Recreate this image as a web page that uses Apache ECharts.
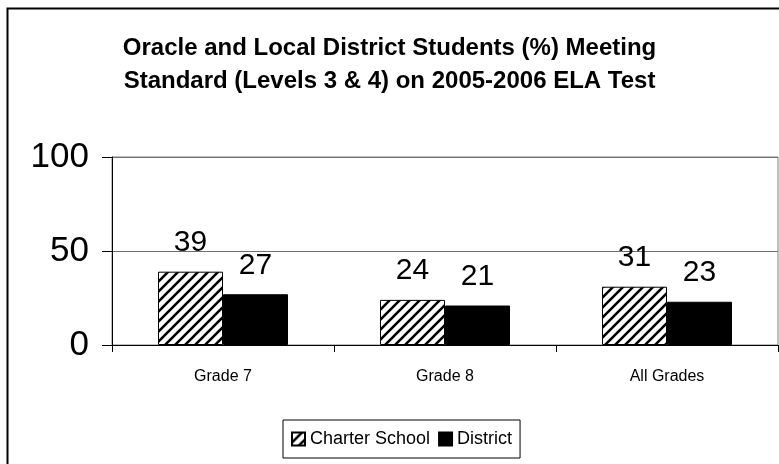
<!DOCTYPE html>
<html>
<head>
<meta charset="utf-8">
<script src="https://cdn.jsdelivr.net/npm/echarts@6/dist/echarts.min.js"></script>
<style>
html,body{margin:0;padding:0;background:#fff;}
#chart{width:779px;height:464px;}
</style>
</head>
<body>
<div id="chart"></div>
<script>
const categories = ['Grade 7', 'Grade 8', 'All Grades'];
const charterSchool = [39, 24, 31];
const district = [27, 21, 23];
const yTicks = [0, 50, 100];

function hatch() {
  const c = document.createElement('canvas');
  const s = 10;
  c.width = s; c.height = s;
  const ctx = c.getContext('2d');
  ctx.fillStyle = '#fff';
  ctx.fillRect(0, 0, s, s);
  ctx.strokeStyle = '#000';
  ctx.lineWidth = 2.6;
  ctx.beginPath();
  ctx.moveTo(-s, s); ctx.lineTo(s, -s);
  ctx.moveTo(0, s); ctx.lineTo(s, 0);
  ctx.moveTo(0, 2 * s); ctx.lineTo(2 * s, 0);
  ctx.stroke();
  return c;
}

const chart = echarts.init(document.getElementById('chart'), null, {renderer: 'canvas'});
const font = 'Liberation Sans, Arial, sans-serif';
chart.setOption({
  animation: false,
  textStyle: {fontFamily: font},
  title: {
    text: 'Oracle and Local District Students (%) Meeting\nStandard (Levels 3 & 4) on 2005-2006 ELA Test',
    left: 'center',
    top: 27,
    textStyle: {fontFamily: font, fontSize: 24, fontWeight: 'bold', color: '#000', lineHeight: 33}
  },
  graphic: [{
    type: 'rect',
    shape: {x: 7.5, y: 8.5, width: 790, height: 480},
    style: {fill: 'none', stroke: '#000', lineWidth: 2},
    silent: true,
    z: 100
  }],
  legend: {
    bottom: 6,
    left: 283,
    data: ['Charter School', 'District'],
    itemWidth: 13,
    itemHeight: 13,
    itemGap: 8,
    padding: [10, 8, 10, 8],
    borderColor: '#000',
    borderWidth: 1,
    textStyle: {fontFamily: font, fontSize: 18, color: '#000'},
    icon: 'rect'
  },
  grid: {left: 112, right: 1, top: 157, bottom: 119, show: true, borderColor: '#808080', borderWidth: 1},
  xAxis: {
    type: 'category',
    data: categories,
    axisLine: {lineStyle: {color: '#000', width: 1}},
    axisTick: {show: true, length: 7, lineStyle: {color: '#000'}},
    axisLabel: {fontFamily: font, fontSize: 16, color: '#000', margin: 24}
  },
  yAxis: {
    type: 'value',
    min: yTicks[0],
    max: yTicks[yTicks.length - 1],
    interval: 50,
    axisLine: {show: true, lineStyle: {color: '#000', width: 1}},
    axisTick: {show: true, length: 10, lineStyle: {color: '#000'}},
    axisLabel: {fontFamily: font, fontSize: 35, color: '#000', margin: 23},
    splitLine: {lineStyle: {color: '#707070', width: 1}}
  },
  series: [{
    name: 'Charter School',
    type: 'bar',
    data: charterSchool,
    barWidth: 65,
    barGap: '0%',
    itemStyle: {color: {image: hatch(), repeat: 'repeat'}, borderColor: '#000', borderWidth: 1},
    label: {show: true, position: 'top', distance: 14, fontFamily: font, fontSize: 30, color: '#000'}
  }, {
    name: 'District',
    type: 'bar',
    data: district,
    barWidth: 65,
    barGap: '0%',
    itemStyle: {color: '#000', borderColor: '#000', borderWidth: 1},
    label: {show: true, position: 'top', distance: 14, fontFamily: font, fontSize: 30, color: '#000'}
  }]
});
</script>
</body>
</html>
